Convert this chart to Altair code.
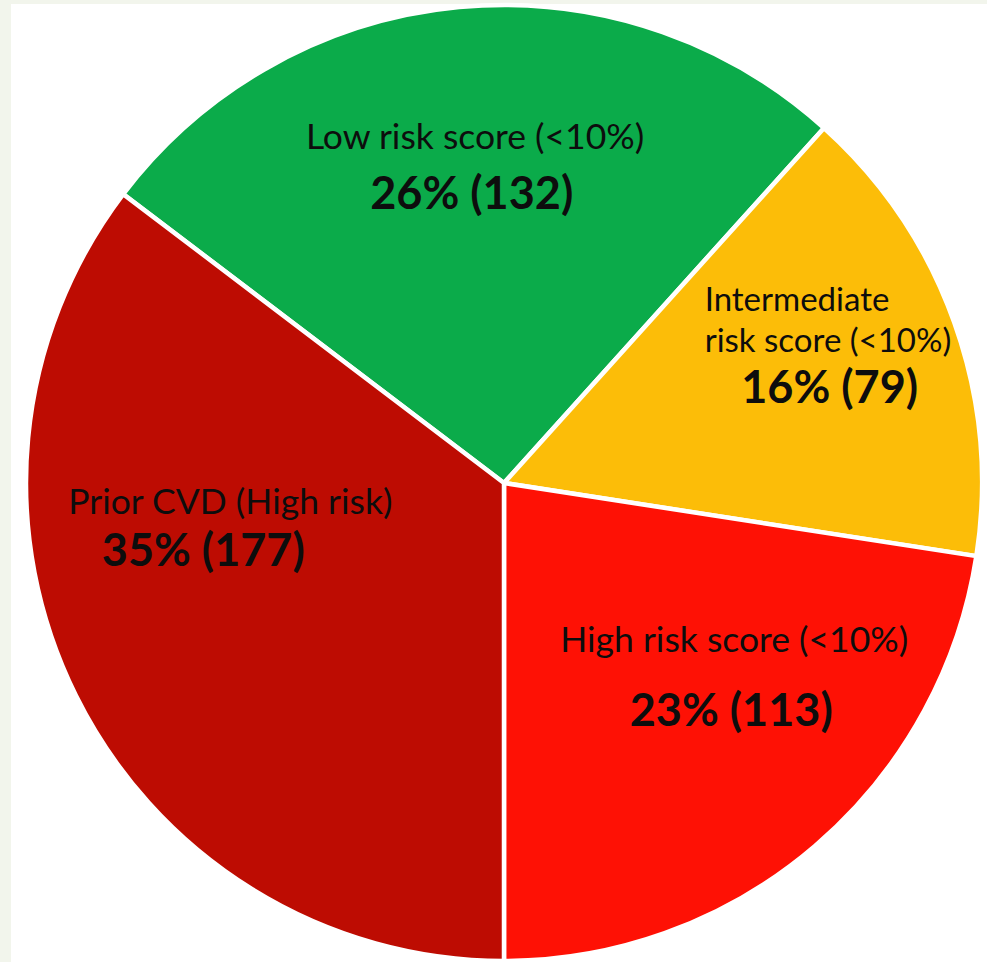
import math
import altair as alt
import pandas as pd

# ---- data ----
categories = ["Low risk score", "Intermediate risk score", "High risk score", "Prior CVD"]
counts = [132, 79, 113, 177]
names = ["Low risk score (<10%)", "Intermediate\nrisk score (<10%)",
         "High risk score (<10%)", "Prior CVD (High risk)"]
colors = ["#0bab4a", "#fcbd08", "#fe1105", "#bd0c02"]

total = sum(counts)
df = pd.DataFrame({"category": categories, "value": counts, "name": names,
                   "order": list(range(len(categories)))})

# Prior CVD slice ends exactly at 6 o'clock (clockwise order from the green slice)
start = math.pi - 2 * math.pi * (total - counts[-1]) / total
theta_scale = alt.Scale(domain=[0, total], range=[start, start + 2 * math.pi])

XOFF, YOFF = 5, 0
TEXT_YOFF = 5
R = 478

base = alt.Chart(df)

pie = base.mark_arc(radius=R, stroke="white", strokeWidth=4.5,
                    xOffset=XOFF, yOffset=YOFF).encode(
    theta=alt.Theta("value:Q", stack=True, scale=theta_scale),
    order=alt.Order("order:Q"),
    color=alt.Color("category:N", scale=alt.Scale(domain=categories, range=colors), legend=None),
)

text_base = base.transform_joinaggregate(tot="sum(value)").transform_window(
    cum="sum(value)", sort=[alt.SortField("order")]
).transform_calculate(
    mid="datum.cum - datum.value / 2",
    vlabel="round(datum.value / datum.tot * 100) + '% (' + datum.value + ')'",
)

FONT = "Lato"
VAL_SIZE = 45

# (category, radius, dx, dy, align, size) -- label placement relative to slice mid-angle
name_pos = [
    (categories[0], 340, 3, -12, "center", 35.5),
    (categories[1], 300, -82, -86, "left", 33),
    (categories[2], 300, 35, -75, "center", 35.5),
    (categories[3], 300, -5, -118, "center", 35.5),
]
val_pos = [
    (categories[0], 290, -5, -4),
    (categories[1], 300, 43, 2),
    (categories[2], 300, 32, -4),
    (categories[3], 300, -32, -69),
]

layers = [pie]
for cat, r, dx, dy, al, sz in name_pos:
    layers.append(
        text_base.transform_filter(alt.datum.category == cat).mark_text(
            radius=r, dx=dx + XOFF, dy=dy + TEXT_YOFF, align=al, baseline="middle",
            font=FONT, fontSize=sz, fontWeight="normal", color="#0d0d0d",
            lineBreak="\n", lineHeight=41,
        ).encode(theta=alt.Theta("mid:Q", stack=False, scale=theta_scale), text="name:N")
    )
for cat, r, dx, dy in val_pos:
    layers.append(
        text_base.transform_filter(alt.datum.category == cat).mark_text(
            radius=r, dx=dx + XOFF, dy=dy + TEXT_YOFF, align="center", baseline="middle",
            font=FONT, fontSize=VAL_SIZE, fontWeight="bold", color="#0d0d0d",
        ).encode(theta=alt.Theta("mid:Q", stack=False, scale=theta_scale), text="vlabel:N")
    )

chart = alt.layer(*layers).properties(
    width=976, height=958,
    padding={"left": 11, "top": 4, "right": 0, "bottom": 0},
    autosize=alt.AutoSizeParams(type="none"),
    background="#f2f5ec",
    view=alt.ViewBackground(fill="white", stroke=None),
)

chart.save("out.html", embed_options={"renderer": "svg", "actions": False})
